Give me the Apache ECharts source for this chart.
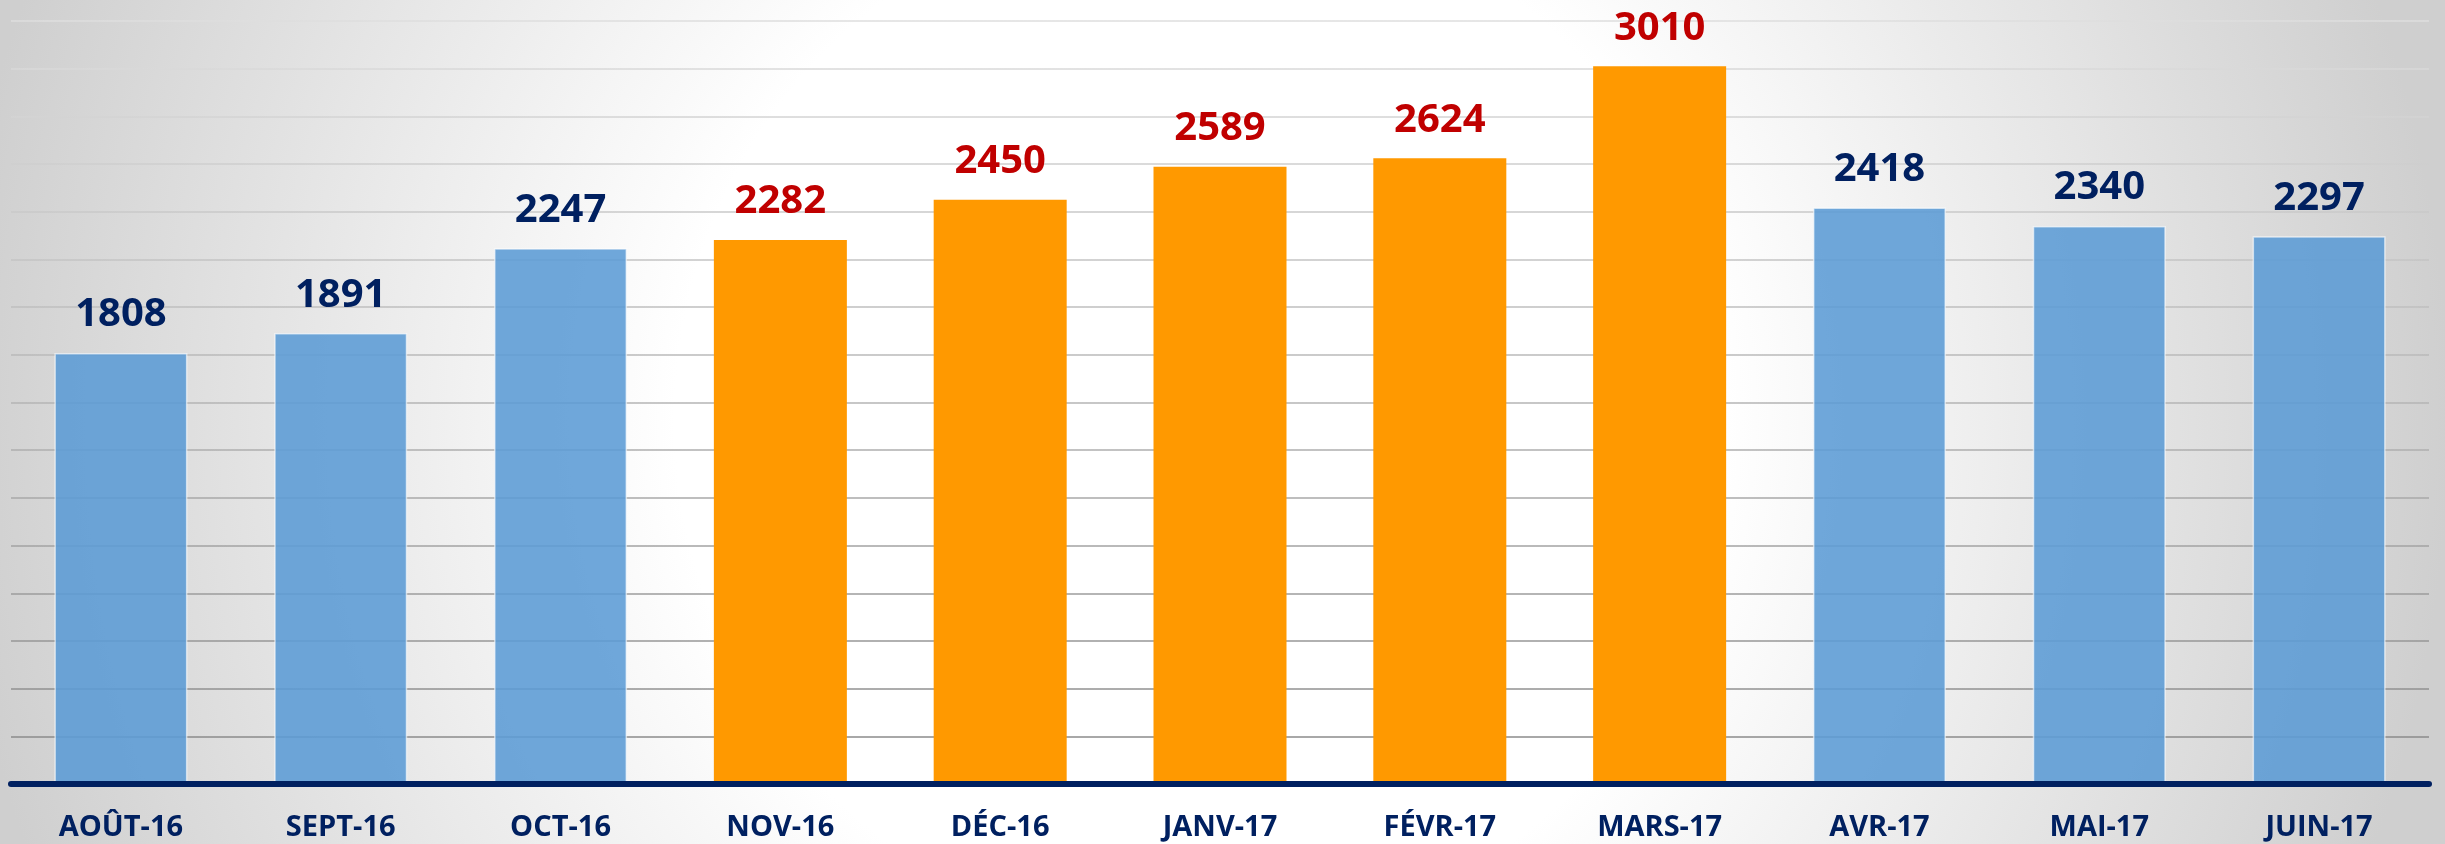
<!DOCTYPE html>
<html>
<head>
<meta charset="utf-8">
<script src="https://cdn.jsdelivr.net/npm/echarts@6/dist/echarts.min.js"></script>
<style>
  html, body { margin: 0; padding: 0; }
  #main {
    width: 2445px;
    height: 844px;
    background: radial-gradient(circle 1250px at 1200px 420px, #ffffff 0%, #ffffff 42%, #cfcfcf 100%);
  }
</style>
</head>
<body>
<div id="main"></div>
<script>
// mois et effectifs
var months = ['AOÛT-16', 'SEPT-16', 'OCT-16', 'NOV-16', 'DÉC-16', 'JANV-17', 'FÉVR-17', 'MARS-17', 'AVR-17', 'MAI-17', 'JUIN-17']
var values = [1808, 1891, 2247, 2282, 2450, 2589, 2624, 3010, 2418, 2340, 2297]
// mois mis en avant (orange)
var highlighted = ['NOV-16', 'DÉC-16', 'JANV-17', 'FÉVR-17', 'MARS-17']

var navy = '#002060'
var blue = 'rgba(91,155,213,0.88)'
var orange = '#ff9900'
var red = '#c00000'

var chart = echarts.init(document.getElementById('main'))

var data = values.map(function(v, i) {
  var hot = highlighted.indexOf(months[i]) >= 0
  return {
    value: v,
    itemStyle: hot
      ? { color: orange, borderWidth: 0 }
      : { color: blue, borderColor: 'rgba(255,255,255,0.6)', borderWidth: 1.5 },
    label: { color: hot ? red : navy },
  }
})

var option = {
  backgroundColor: 'transparent',
  animation: false,
  grid: {
    left: 11,
    right: 16,
    top: 21,
    bottom: 60,
  },
  xAxis: {
    type: 'category',
    data: months,
    axisTick: { show: false },
    axisLine: {
      lineStyle: { color: navy, width: 6 },
    },
    axisLabel: {
      margin: 29,
      color: navy,
      fontFamily: 'Open Sans',
      fontWeight: 'bold',
      fontSize: 29,
    },
    z: 5,
  },
  yAxis: {
    type: 'value',
    min: 0,
    max: 3200,
    interval: 200,
    axisLabel: { show: false },
    axisLine: { show: false },
    axisTick: { show: false },
    splitLine: {
      show: true,
      lineStyle: {
        width: 1.5,
        // lignes plus claires en haut, plus foncées en bas
        color: new echarts.graphic.LinearGradient(0, 20, 0, 784, [
          { offset: 0, color: '#dedede' },
          { offset: 0.5, color: '#b4b4b4' },
          { offset: 1, color: '#858585' },
        ], true),
      },
    },
  },
  series: [
    {
      type: 'bar',
      data: data,
      barWidth: 133,
      label: {
        show: true,
        position: 'top',
        distance: 18,
        fontFamily: 'Open Sans',
        fontWeight: 'bold',
        fontSize: 40,
      },
    },
  ],
}

chart.setOption(option)
</script>
</body>
</html>
